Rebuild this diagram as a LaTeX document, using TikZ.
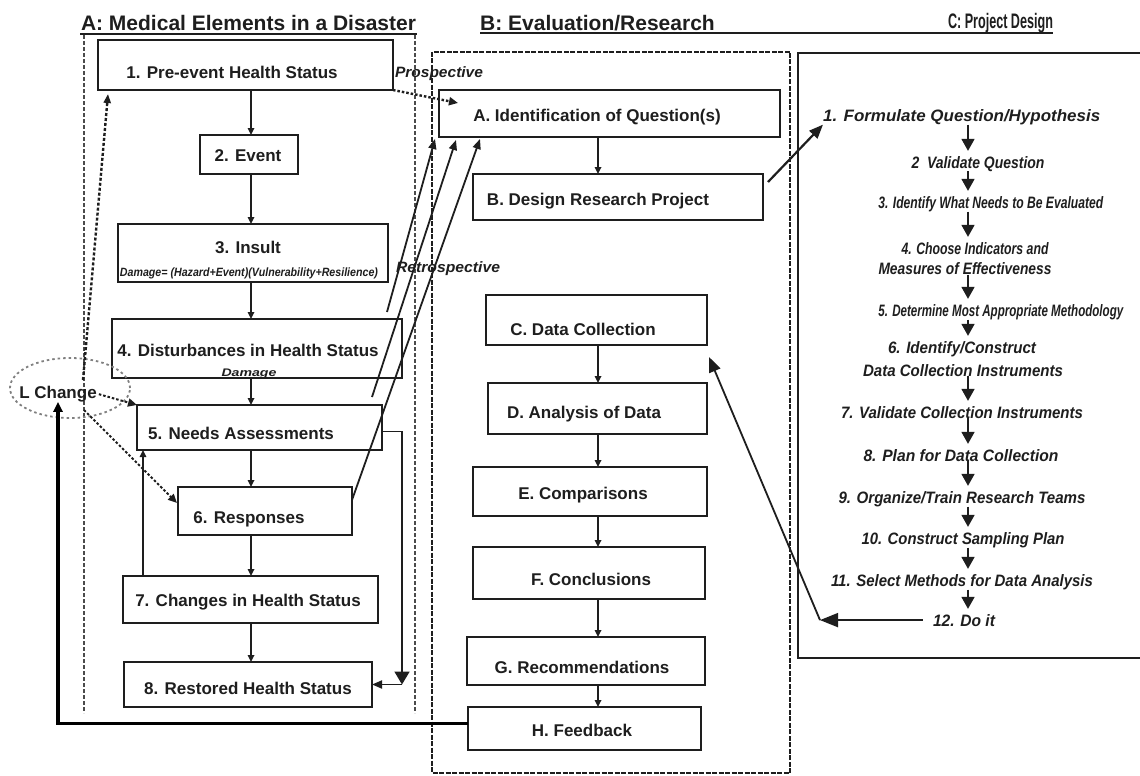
\documentclass[tikz,border=0pt]{standalone}
\usepackage{fontspec}
\setmainfont{Liberation Sans}
\usetikzlibrary{arrows.meta,shapes.geometric,calc}
\definecolor{ink}{HTML}{1E1E1E}
\newcommand\wfit[2]{\resizebox{#1pt}{\height}{#2}}
\begin{document}
\begin{tikzpicture}[x=1pt,y=-1pt,
  box/.style={draw=ink, line width=2.2pt, inner sep=0pt, outer sep=0pt},
  lbl/.style={font=\fontsize{17}{20}\selectfont\bfseries, text=ink, inner sep=0pt, anchor=base},
  ttl/.style={font=\fontsize{21}{24}\selectfont\bfseries, text=ink, inner sep=0pt, anchor=base},
  itm/.style={font=\fontsize{16.5}{19}\selectfont\bfseries\itshape, text=ink, inner sep=0pt, anchor=base},
  dmg/.style={font=\fontsize{12}{14}\selectfont\bfseries\itshape, text=ink, inner sep=0pt, anchor=base},
  smallarr/.style={line width=1.6pt, draw=ink, -{Triangle[length=7pt,width=6.5pt]}},
  bigarr/.style={line width=1.6pt, draw=ink, -{Triangle[length=12pt,width=13pt]}, shorten >=5pt},
  retro/.style={line width=1.8pt, draw=ink, -{Triangle[length=10pt,width=8pt]}},
  dotarr/.style={line width=2.4pt, draw=ink, dash pattern=on 2.5pt off 2pt, -{Triangle[length=9pt,width=8pt]}},
  dasharr/.style={line width=2.4pt, draw=ink, dash pattern=on 3pt off 2pt, -{Triangle[length=9pt,width=7pt]}},
  dashA/.style={line width=2pt, draw=ink!80, dash pattern=on 4pt off 2pt},
  dotB/.style={line width=2.2pt, draw=ink, dash pattern=on 5pt off 1.5pt},
  fb/.style={line width=3.5pt, draw=black, -{Triangle[length=10pt,width=9pt]}}
]
\useasboundingbox (0,0) rectangle (1140,776);
\fill[white] (0,0) rectangle (1140,776);

% ---- region frames
\draw[dashA] (84,35) -- (84,713);
\draw[dashA] (415,35) -- (415,713);
\draw[dotB] (432,52) rectangle (790,773);
\draw[line width=2.5pt, draw=ink] (1140,53) -- (798,53) -- (798,658) -- (1140,658);

% ---- titles
\node[ttl] (ttlA) at (248.5,31) {A: Medical Elements in a Disaster};
\node[ttl] (ttlB) at (597.5,31) {B: Evaluation/Research};
\node[ttl] (ttlC) at (1000.5,29) {\wfit{105}{C: Project Design}};
\draw[line width=2pt, draw=ink] (80,34) -- (417,34);
\draw[line width=2pt, draw=ink] (480,33.5) -- (1053,33.5);

% ---- column A boxes
\node[box,minimum width=295pt,minimum height=50pt] (n1) at (245.5,65) {};
\node[box,minimum width=98pt,minimum height=39pt] (n2) at (249,154.5) {};
\node[box,minimum width=270pt,minimum height=58pt] (n3) at (253,253) {};
\node[box,minimum width=290pt,minimum height=59pt] (n4) at (257,348.5) {};
\node[box,minimum width=245pt,minimum height=45pt] (n5) at (259.5,427.5) {};
\node[box,minimum width=174pt,minimum height=48pt] (n6) at (265,511) {};
\node[box,minimum width=255pt,minimum height=47pt] (n7) at (250.5,599.5) {};
\node[box,minimum width=248pt,minimum height=45pt] (n8) at (248,684.5) {};

\node[lbl] (t1) at (232,78) {1. Pre-event Health Status};
\node[lbl] (t2) at (248,161) {2. Event};
\node[lbl] (t3) at (248,253) {3. Insult};
\node[dmg] (t3b) at (249,276) {\wfit{258}{Damage= (Hazard+Event)(Vulnerability+Resilience)}};
\node[lbl] (t4) at (248,356) {4. Disturbances in Health Status};
\node[dmg,font=\fontsize{11}{13}\selectfont\bfseries\itshape] (t4b) at (249,376) {\wfit{55}{Damage}};
\node[lbl] (t5) at (241,439) {5. Needs Assessments};
\node[lbl] (t6) at (249,523) {6. Responses};
\node[lbl] (t7) at (248,606) {7. Changes in Health Status};
\node[lbl] (t8) at (248,694) {8. Restored Health Status};

% ---- column B boxes
\node[box,minimum width=341pt,minimum height=47pt] (bA) at (609.5,113.5) {};
\node[box,minimum width=290pt,minimum height=46pt] (bB) at (618,197) {};
\node[box,minimum width=221pt,minimum height=50pt] (bC) at (596.5,320) {};
\node[box,minimum width=219pt,minimum height=51pt] (bD) at (597.5,408.5) {};
\node[box,minimum width=234pt,minimum height=49pt] (bE) at (590,491.5) {};
\node[box,minimum width=232pt,minimum height=52pt] (bF) at (589,573) {};
\node[box,minimum width=238pt,minimum height=48pt] (bG) at (586,661) {};
\node[box,minimum width=233pt,minimum height=43pt] (bH) at (584.5,728.5) {};

\node[lbl] (tA) at (597,121) {A. Identification of Question(s)};
\node[lbl] (tB) at (598,205) {B. Design Research Project};
\node[lbl] (tC) at (583,335) {C. Data Collection};
\node[lbl] (tD) at (584,418) {D. Analysis of Data};
\node[lbl] (tE) at (583,499) {E. Comparisons};
\node[lbl] (tF) at (591,585) {F. Conclusions};
\node[lbl] (tG) at (582,673) {G. Recommendations};
\node[lbl] (tH) at (582,736) {H. Feedback};

% ---- column C items
\node[itm] (c1) at (961.7,121) {\wfit{277}{1. Formulate Question/Hypothesis}};
\node[itm] (c2) at (978,168) {\wfit{133}{2\ \ Validate Question}};
\node[itm] (c3) at (990.8,208) {\wfit{225}{3. Identify What Needs to Be Evaluated}};
\node[itm] (c4a) at (975,254) {\wfit{147}{4. Choose Indicators and}};
\node[itm] (c4b) at (965,274.5) {\wfit{173}{Measures of Effectiveness}};
\node[itm] (c5) at (1000.8,316) {\wfit{245}{5. Determine Most Appropriate Methodology}};
\node[itm] (c6a) at (962,353) {\wfit{148}{6. Identify/Construct}};
\node[itm] (c6b) at (963,376) {\wfit{200}{Data Collection Instruments}};
\node[itm] (c7) at (962,418) {\wfit{242}{7. Validate Collection Instruments}};
\node[itm] (c8) at (961,461) {\wfit{195}{8. Plan for Data Collection}};
\node[itm] (c9) at (962,503) {\wfit{247}{9. Organize/Train Research Teams}};
\node[itm] (c10) at (963,544) {\wfit{203}{10. Construct Sampling Plan}};
\node[itm] (c11) at (962,586) {\wfit{262}{11. Select Methods for Data Analysis}};
\node[itm] (c12) at (964,626) {\wfit{62}{12. Do it}};

% ---- labels
\node[itm,font=\fontsize{15}{18}\selectfont\bfseries\itshape] (lp) at (439,77.5) {\wfit{88}{Prospective}};
\node[itm,font=\fontsize{15}{18}\selectfont\bfseries\itshape] (lr) at (448,272.5) {\wfit{104}{Retrospective}};
\node[lbl] (lc) at (58,398) {L Change};
\node[draw=gray, dash pattern=on 2.5pt off 3pt, line width=1.8pt, ellipse, minimum width=120pt, minimum height=60pt, inner sep=0pt] (lcell) at (70,388) {};

% ---- column A connectors
\coordinate (ax) at (251,0);
\draw[smallarr] (n1.south -| ax) -- (n2.north -| ax);
\draw[smallarr] (n2.south -| ax) -- (n3.north -| ax);
\draw[smallarr] (n3.south -| ax) -- (n4.north -| ax);
\draw[smallarr] (n4.south -| ax) -- (n5.north -| ax);
\draw[smallarr] (n5.south -| ax) -- (n6.north -| ax);
\draw[smallarr] (n6.south -| ax) -- (n7.north -| ax);
\draw[smallarr] (n7.south -| ax) -- (n8.north -| ax);
\coordinate (x75) at (143,0);
\draw[smallarr,line width=1.4pt] (n7.north -| x75) -- (n5.south -| x75);
\coordinate (x58) at (402,0);
\draw[line width=1.8pt, draw=ink, -{Triangle[length=13pt,width=15pt]}] ($(n5.east)+(0,4)$) -| (x58 |- n8.east);
\draw[line width=1.8pt, draw=ink, -{Triangle[length=10pt,width=8pt]}] (x58 |- n8.east) -- (n8.east);

% ---- prospective / retrospective
\coordinate (pA) at (458,103);
\draw[dotarr] (n1.south east) -- (pA);
\coordinate (s1) at (387,312);
\coordinate (s2) at (372,397);
\coordinate (s3) at (352,500);
\coordinate (e1) at (435,139);
\coordinate (e2) at (456,140);
\coordinate (e3) at (480,139);
\draw[retro] (s1) -- (e1);
\draw[retro] (s2) -- (e2);
\draw[retro] (s3) -- (e3);

% ---- L change connectors
\coordinate (lcs) at (83,380);
\coordinate (p1) at (108,94);
\draw[dasharr] (lcs) -- (p1);
\draw[dotarr,line width=2pt,shorten <=2pt] (lc.east) -- (n5.north west);
\coordinate (ls6) at (84,410);
\coordinate (t6) at (177,503);
\draw[dotarr,line width=2pt] (ls6) -- (t6);
\draw[fb] ($(bH.west)+(0,-5)$) -| (lc.south);

% ---- column B connectors
\coordinate (bx) at (598,0);
\draw[smallarr] (bA.south -| bx) -- (bB.north -| bx);
\draw[smallarr] (bC.south -| bx) -- (bD.north -| bx);
\draw[smallarr] (bD.south -| bx) -- (bE.north -| bx);
\draw[smallarr] (bE.south -| bx) -- (bF.north -| bx);
\draw[smallarr] (bF.south -| bx) -- (bG.north -| bx);
\draw[smallarr] (bG.south -| bx) -- (bH.north -| bx);
\draw[line width=2.2pt, draw=ink, -{Triangle[length=14pt,width=11pt]}] ($(bB.east)+(5,-15)$) -- (c1.south west);

% ---- column C connectors
\coordinate (cx) at (968,0);
\draw[bigarr] (c1.south -| cx) -- (c2.north -| cx);
\draw[bigarr] (c2.south -| cx) -- (c3.north -| cx);
\draw[bigarr] (c3.south -| cx) -- (c4a.north -| cx);
\draw[bigarr] (c4b.south -| cx) -- (c5.north -| cx);
\draw[bigarr] (c5.south -| cx) -- (c6a.north -| cx);
\draw[bigarr] (c6b.south -| cx) -- (c7.north -| cx);
\draw[bigarr] (c7.south -| cx) -- (c8.north -| cx);
\draw[bigarr] (c8.south -| cx) -- (c9.north -| cx);
\draw[bigarr] (c9.south -| cx) -- (c10.north -| cx);
\draw[bigarr] (c10.south -| cx) -- (c11.north -| cx);
\draw[bigarr] (c11.south -| cx) -- (c12.north -| cx);
\coordinate (xDo) at (820,0);
\draw[line width=1.8pt, draw=ink, -{Triangle[length=18pt,width=14pt]}, shorten <=10pt] (c12.west) -- (c12.west -| xDo);
\draw[line width=1.8pt, draw=ink, -{Triangle[length=15pt,width=12pt]}] (c12.west -| xDo) -- ($(bC.south east)+(2,12)$);
\end{tikzpicture}
\end{document}
